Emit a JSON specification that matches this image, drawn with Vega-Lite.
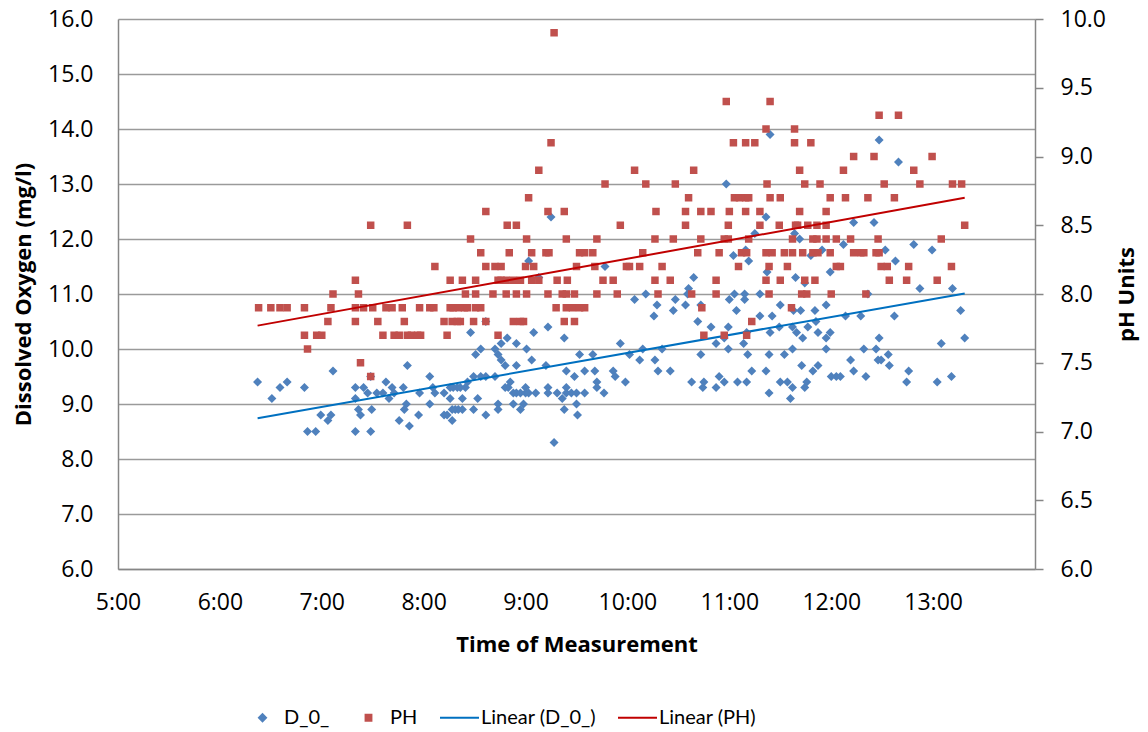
{
  "$schema": "https://vega.github.io/schema/vega-lite/v6.json",
  "width": 917,
  "height": 550,
  "autosize": "none",
  "padding": {"left": 118, "top": 19, "right": 113, "bottom": 163},
  "background": "white",
  "config": {
    "view": {"stroke": null},
    "font": "Open Sans",
    "axis": {"labelFont": "Open Sans", "labelFontSize": 23, "labelColor": "#000000", "titleFont": "Open Sans", "titleFontSize": 22, "titleFontWeight": "bold", "titleColor": "#000000", "labelFlush": false, "labelOverlap": false, "domainColor": "#868686", "domainWidth": 1.5},
    "legend": {"title": null, "orient": "none", "legendX": 124, "legendY": 678, "direction": "horizontal", "columns": 4, "columnPadding": 18, "padding": 0, "labelFont": "Lato", "labelFontSize": 20, "labelColor": "#000000", "labelOffset": 1, "symbolSize": 1521, "symbolStrokeWidth": 2, "symbolOpacity": 1}
  },
  "datasets": {
    "do": [
      {"t":6.37,"v":9.4,"s":"D_0_"},{"t":6.51,"v":9.1,"s":"D_0_"},{"t":6.59,"v":9.3,"s":"D_0_"},{"t":6.66,"v":9.4,"s":"D_0_"},{"t":6.83,"v":9.3,"s":"D_0_"},{"t":7.11,"v":9.6,"s":"D_0_"},{"t":6.86,"v":8.5,"s":"D_0_"},{"t":6.94,"v":8.5,"s":"D_0_"},{"t":6.99,"v":8.8,"s":"D_0_"},{"t":7.06,"v":8.7,"s":"D_0_"},{"t":7.09,"v":8.8,"s":"D_0_"},{"t":7.33,"v":9.3,"s":"D_0_"},{"t":7.33,"v":9.1,"s":"D_0_"},{"t":7.36,"v":8.9,"s":"D_0_"},{"t":7.38,"v":8.8,"s":"D_0_"},{"t":7.33,"v":8.5,"s":"D_0_"},{"t":7.41,"v":9.3,"s":"D_0_"},{"t":7.45,"v":9.2,"s":"D_0_"},{"t":7.48,"v":9.5,"s":"D_0_"},{"t":7.49,"v":8.9,"s":"D_0_"},{"t":7.48,"v":8.5,"s":"D_0_"},{"t":7.54,"v":9.2,"s":"D_0_"},{"t":7.60,"v":9.2,"s":"D_0_"},{"t":7.63,"v":9.4,"s":"D_0_"},{"t":7.69,"v":9.3,"s":"D_0_"},{"t":7.71,"v":9.2,"s":"D_0_"},{"t":7.80,"v":9.3,"s":"D_0_"},{"t":7.66,"v":9.1,"s":"D_0_"},{"t":7.84,"v":9.7,"s":"D_0_"},{"t":7.83,"v":9.0,"s":"D_0_"},{"t":7.81,"v":8.9,"s":"D_0_"},{"t":7.76,"v":8.7,"s":"D_0_"},{"t":7.86,"v":8.6,"s":"D_0_"},{"t":7.95,"v":8.8,"s":"D_0_"},{"t":7.96,"v":9.2,"s":"D_0_"},{"t":8.06,"v":9.5,"s":"D_0_"},{"t":8.09,"v":9.3,"s":"D_0_"},{"t":8.11,"v":9.2,"s":"D_0_"},{"t":8.06,"v":9.0,"s":"D_0_"},
      {"t":9.25,"v":12.4,"s":"D_0_"},{"t":9.03,"v":11.6,"s":"D_0_"},{"t":9.13,"v":11.3,"s":"D_0_"},{"t":9.78,"v":11.5,"s":"D_0_"},{"t":8.61,"v":10.5,"s":"D_0_"},{"t":8.46,"v":10.3,"s":"D_0_"},{"t":9.22,"v":10.4,"s":"D_0_"},{"t":9.08,"v":10.3,"s":"D_0_"},{"t":9.38,"v":10.2,"s":"D_0_"},{"t":8.82,"v":10.2,"s":"D_0_"},{"t":8.76,"v":10.1,"s":"D_0_"},{"t":8.91,"v":10.1,"s":"D_0_"},{"t":8.56,"v":10.0,"s":"D_0_"},{"t":8.51,"v":9.9,"s":"D_0_"},{"t":8.70,"v":10.0,"s":"D_0_"},{"t":8.73,"v":9.9,"s":"D_0_"},{"t":8.76,"v":9.8,"s":"D_0_"},{"t":8.80,"v":9.7,"s":"D_0_"},{"t":9.01,"v":10.0,"s":"D_0_"},{"t":9.06,"v":9.8,"s":"D_0_"},{"t":9.93,"v":10.1,"s":"D_0_"},{"t":9.53,"v":9.9,"s":"D_0_"},{"t":9.66,"v":9.9,"s":"D_0_"},{"t":8.91,"v":9.7,"s":"D_0_"},{"t":9.20,"v":9.7,"s":"D_0_"},{"t":9.40,"v":9.6,"s":"D_0_"},{"t":9.48,"v":9.5,"s":"D_0_"},{"t":9.58,"v":9.6,"s":"D_0_"},{"t":9.68,"v":9.6,"s":"D_0_"},{"t":9.86,"v":9.6,"s":"D_0_"},{"t":9.88,"v":9.5,"s":"D_0_"},{"t":9.98,"v":9.4,"s":"D_0_"},{"t":8.43,"v":9.4,"s":"D_0_"},{"t":8.49,"v":9.5,"s":"D_0_"},{"t":8.56,"v":9.5,"s":"D_0_"},{"t":8.61,"v":9.5,"s":"D_0_"},{"t":8.70,"v":9.5,"s":"D_0_"},{"t":8.85,"v":9.4,"s":"D_0_"},{"t":8.83,"v":9.3,"s":"D_0_"},{"t":8.80,"v":9.3,"s":"D_0_"},{"t":8.20,"v":9.2,"s":"D_0_"},{"t":8.26,"v":9.3,"s":"D_0_"},{"t":8.29,"v":9.3,"s":"D_0_"},{"t":8.33,"v":9.3,"s":"D_0_"},{"t":8.36,"v":9.3,"s":"D_0_"},{"t":8.41,"v":9.3,"s":"D_0_"},{"t":8.26,"v":9.1,"s":"D_0_"},{"t":8.38,"v":9.1,"s":"D_0_"},{"t":8.31,"v":8.9,"s":"D_0_"},{"t":8.34,"v":8.9,"s":"D_0_"},{"t":8.28,"v":8.9,"s":"D_0_"},{"t":8.38,"v":8.9,"s":"D_0_"},{"t":8.20,"v":8.8,"s":"D_0_"},{"t":8.23,"v":8.8,"s":"D_0_"},{"t":8.28,"v":8.7,"s":"D_0_"},{"t":8.53,"v":9.1,"s":"D_0_"},{"t":8.49,"v":8.9,"s":"D_0_"},{"t":8.61,"v":8.8,"s":"D_0_"},{"t":8.73,"v":9.0,"s":"D_0_"},{"t":8.73,"v":8.9,"s":"D_0_"},{"t":8.88,"v":9.2,"s":"D_0_"},{"t":8.91,"v":9.2,"s":"D_0_"},{"t":8.95,"v":9.2,"s":"D_0_"},{"t":9.00,"v":9.3,"s":"D_0_"},{"t":9.00,"v":9.2,"s":"D_0_"},{"t":9.03,"v":9.2,"s":"D_0_"},{"t":9.10,"v":9.2,"s":"D_0_"},{"t":8.88,"v":9.0,"s":"D_0_"},{"t":8.95,"v":8.9,"s":"D_0_"},{"t":8.98,"v":9.0,"s":"D_0_"},{"t":9.22,"v":9.3,"s":"D_0_"},{"t":9.22,"v":9.2,"s":"D_0_"},{"t":9.31,"v":9.2,"s":"D_0_"},{"t":9.36,"v":9.1,"s":"D_0_"},{"t":9.40,"v":9.3,"s":"D_0_"},{"t":9.40,"v":9.2,"s":"D_0_"},{"t":9.45,"v":9.2,"s":"D_0_"},{"t":9.50,"v":9.2,"s":"D_0_"},{"t":9.58,"v":9.2,"s":"D_0_"},{"t":9.38,"v":8.9,"s":"D_0_"},{"t":9.50,"v":9.0,"s":"D_0_"},{"t":9.51,"v":8.8,"s":"D_0_"},{"t":9.70,"v":9.4,"s":"D_0_"},{"t":9.70,"v":9.3,"s":"D_0_"},{"t":9.77,"v":9.2,"s":"D_0_"},{"t":9.28,"v":8.3,"s":"D_0_"},
      {"t":11.40,"v":13.9,"s":"D_0_"},{"t":10.97,"v":13.0,"s":"D_0_"},{"t":11.36,"v":12.4,"s":"D_0_"},{"t":11.25,"v":12.1,"s":"D_0_"},{"t":11.64,"v":12.1,"s":"D_0_"},{"t":11.69,"v":12.0,"s":"D_0_"},{"t":11.16,"v":11.8,"s":"D_0_"},{"t":11.04,"v":11.7,"s":"D_0_"},{"t":11.19,"v":11.6,"s":"D_0_"},{"t":11.80,"v":11.7,"s":"D_0_"},{"t":11.37,"v":11.4,"s":"D_0_"},{"t":10.65,"v":11.3,"s":"D_0_"},{"t":11.65,"v":11.3,"s":"D_0_"},
      {"t":11.74,"v":11.2,"s":"D_0_"},{"t":10.18,"v":11.0,"s":"D_0_"},{"t":10.59,"v":11.0,"s":"D_0_"},{"t":10.60,"v":11.1,"s":"D_0_"},{"t":11.05,"v":11.0,"s":"D_0_"},{"t":11.15,"v":11.0,"s":"D_0_"},{"t":11.30,"v":11.0,"s":"D_0_"},{"t":10.07,"v":10.9,"s":"D_0_"},{"t":10.29,"v":10.8,"s":"D_0_"},{"t":10.47,"v":10.9,"s":"D_0_"},{"t":10.57,"v":10.8,"s":"D_0_"},{"t":11.00,"v":10.9,"s":"D_0_"},{"t":11.15,"v":10.9,"s":"D_0_"},{"t":10.72,"v":10.8,"s":"D_0_"},{"t":10.26,"v":10.6,"s":"D_0_"},{"t":10.45,"v":10.7,"s":"D_0_"},{"t":11.07,"v":10.7,"s":"D_0_"},{"t":11.30,"v":10.6,"s":"D_0_"},{"t":11.42,"v":10.6,"s":"D_0_"},{"t":11.50,"v":10.8,"s":"D_0_"},{"t":11.63,"v":10.7,"s":"D_0_"},{"t":11.70,"v":10.7,"s":"D_0_"},{"t":11.84,"v":10.7,"s":"D_0_"},{"t":10.69,"v":10.5,"s":"D_0_"},{"t":10.82,"v":10.4,"s":"D_0_"},{"t":10.99,"v":10.4,"s":"D_0_"},{"t":10.87,"v":10.1,"s":"D_0_"},{"t":10.95,"v":10.2,"s":"D_0_"},{"t":11.14,"v":10.1,"s":"D_0_"},{"t":11.17,"v":10.3,"s":"D_0_"},{"t":11.40,"v":10.3,"s":"D_0_"},{"t":11.49,"v":10.4,"s":"D_0_"},{"t":11.62,"v":10.4,"s":"D_0_"},{"t":11.66,"v":10.3,"s":"D_0_"},{"t":11.72,"v":10.2,"s":"D_0_"},{"t":11.77,"v":10.4,"s":"D_0_"},{"t":11.87,"v":10.3,"s":"D_0_"},{"t":10.15,"v":10.0,"s":"D_0_"},{"t":10.34,"v":10.0,"s":"D_0_"},{"t":10.72,"v":9.9,"s":"D_0_"},{"t":10.99,"v":10.0,"s":"D_0_"},{"t":11.18,"v":9.9,"s":"D_0_"},{"t":11.39,"v":9.9,"s":"D_0_"},{"t":11.54,"v":9.9,"s":"D_0_"},{"t":11.62,"v":10.0,"s":"D_0_"},{"t":10.02,"v":9.9,"s":"D_0_"},{"t":10.12,"v":9.8,"s":"D_0_"},{"t":10.27,"v":9.8,"s":"D_0_"},{"t":10.30,"v":9.6,"s":"D_0_"},{"t":10.42,"v":9.6,"s":"D_0_"},{"t":11.22,"v":9.6,"s":"D_0_"},{"t":11.36,"v":9.6,"s":"D_0_"},{"t":11.71,"v":9.7,"s":"D_0_"},{"t":11.82,"v":9.6,"s":"D_0_"},{"t":11.87,"v":9.7,"s":"D_0_"},{"t":10.63,"v":9.4,"s":"D_0_"},{"t":10.75,"v":9.4,"s":"D_0_"},{"t":10.74,"v":9.3,"s":"D_0_"},{"t":10.87,"v":9.3,"s":"D_0_"},{"t":10.90,"v":9.5,"s":"D_0_"},{"t":10.95,"v":9.4,"s":"D_0_"},{"t":11.08,"v":9.4,"s":"D_0_"},{"t":11.17,"v":9.4,"s":"D_0_"},{"t":11.50,"v":9.4,"s":"D_0_"},{"t":11.57,"v":9.4,"s":"D_0_"},{"t":11.62,"v":9.3,"s":"D_0_"},{"t":11.74,"v":9.3,"s":"D_0_"},{"t":11.76,"v":9.4,"s":"D_0_"},{"t":11.39,"v":9.2,"s":"D_0_"},{"t":11.60,"v":9.1,"s":"D_0_"},
      {"t":12.47,"v":13.8,"s":"D_0_"},{"t":12.66,"v":13.4,"s":"D_0_"},{"t":12.22,"v":12.3,"s":"D_0_"},{"t":12.42,"v":12.3,"s":"D_0_"},{"t":12.12,"v":11.9,"s":"D_0_"},{"t":12.81,"v":11.9,"s":"D_0_"},{"t":11.91,"v":11.8,"s":"D_0_"},{"t":12.53,"v":11.8,"s":"D_0_"},{"t":12.99,"v":11.8,"s":"D_0_"},{"t":12.63,"v":11.6,"s":"D_0_"},{"t":11.99,"v":11.4,"s":"D_0_"},
      {"t":12.87,"v":11.1,"s":"D_0_"},{"t":13.19,"v":11.1,"s":"D_0_"},{"t":12.36,"v":11.0,"s":"D_0_"},{"t":11.95,"v":10.8,"s":"D_0_"},{"t":13.27,"v":10.7,"s":"D_0_"},{"t":11.85,"v":10.5,"s":"D_0_"},{"t":12.14,"v":10.6,"s":"D_0_"},{"t":12.29,"v":10.6,"s":"D_0_"},{"t":12.62,"v":10.6,"s":"D_0_"},{"t":11.99,"v":10.3,"s":"D_0_"},{"t":11.95,"v":10.2,"s":"D_0_"},{"t":12.47,"v":10.2,"s":"D_0_"},{"t":13.31,"v":10.2,"s":"D_0_"},{"t":13.08,"v":10.1,"s":"D_0_"},{"t":11.95,"v":10.0,"s":"D_0_"},{"t":12.32,"v":10.0,"s":"D_0_"},{"t":12.44,"v":10.0,"s":"D_0_"},{"t":12.56,"v":9.9,"s":"D_0_"},{"t":12.46,"v":9.8,"s":"D_0_"},{"t":12.49,"v":9.8,"s":"D_0_"},{"t":12.19,"v":9.8,"s":"D_0_"},{"t":12.57,"v":9.7,"s":"D_0_"},{"t":12.22,"v":9.6,"s":"D_0_"},{"t":12.76,"v":9.6,"s":"D_0_"},{"t":12.00,"v":9.5,"s":"D_0_"},{"t":12.05,"v":9.5,"s":"D_0_"},{"t":12.09,"v":9.5,"s":"D_0_"},{"t":12.34,"v":9.5,"s":"D_0_"},{"t":13.18,"v":9.5,"s":"D_0_"},{"t":12.74,"v":9.4,"s":"D_0_"},{"t":13.04,"v":9.4,"s":"D_0_"}
    ],
    "ph": [
      {"t":7.48,"v":8.5,"s":"PH"},{"t":7.84,"v":8.5,"s":"PH"},{"t":8.11,"v":8.2,"s":"PH"},{"t":7.33,"v":8.1,"s":"PH"},{"t":7.11,"v":8.0,"s":"PH"},{"t":7.36,"v":8.0,"s":"PH"},{"t":6.38,"v":7.9,"s":"PH"},{"t":6.50,"v":7.9,"s":"PH"},{"t":6.59,"v":7.9,"s":"PH"},{"t":6.66,"v":7.9,"s":"PH"},{"t":6.83,"v":7.9,"s":"PH"},{"t":7.09,"v":7.9,"s":"PH"},{"t":7.33,"v":7.9,"s":"PH"},{"t":7.41,"v":7.9,"s":"PH"},{"t":7.50,"v":7.9,"s":"PH"},{"t":7.63,"v":7.9,"s":"PH"},{"t":7.69,"v":7.9,"s":"PH"},{"t":7.79,"v":7.9,"s":"PH"},{"t":7.96,"v":7.9,"s":"PH"},{"t":8.06,"v":7.9,"s":"PH"},{"t":8.10,"v":7.9,"s":"PH"},{"t":7.06,"v":7.8,"s":"PH"},{"t":7.33,"v":7.8,"s":"PH"},{"t":7.55,"v":7.8,"s":"PH"},{"t":7.81,"v":7.8,"s":"PH"},{"t":6.83,"v":7.7,"s":"PH"},{"t":6.95,"v":7.7,"s":"PH"},{"t":7.00,"v":7.7,"s":"PH"},{"t":7.60,"v":7.7,"s":"PH"},{"t":7.71,"v":7.7,"s":"PH"},{"t":7.76,"v":7.7,"s":"PH"},{"t":7.84,"v":7.7,"s":"PH"},{"t":7.88,"v":7.7,"s":"PH"},{"t":7.94,"v":7.7,"s":"PH"},{"t":7.97,"v":7.7,"s":"PH"},{"t":6.86,"v":7.6,"s":"PH"},{"t":7.38,"v":7.5,"s":"PH"},{"t":7.48,"v":7.4,"s":"PH"},
      {"t":9.28,"v":9.9,"s":"PH"},{"t":9.25,"v":9.1,"s":"PH"},{"t":9.13,"v":8.9,"s":"PH"},{"t":9.78,"v":8.8,"s":"PH"},{"t":9.03,"v":8.7,"s":"PH"},{"t":8.61,"v":8.6,"s":"PH"},{"t":9.22,"v":8.6,"s":"PH"},{"t":9.38,"v":8.6,"s":"PH"},{"t":8.82,"v":8.5,"s":"PH"},{"t":8.91,"v":8.5,"s":"PH"},{"t":9.93,"v":8.5,"s":"PH"},{"t":8.46,"v":8.4,"s":"PH"},{"t":9.01,"v":8.4,"s":"PH"},{"t":9.40,"v":8.4,"s":"PH"},{"t":9.70,"v":8.4,"s":"PH"},{"t":8.56,"v":8.3,"s":"PH"},{"t":8.84,"v":8.3,"s":"PH"},{"t":9.06,"v":8.3,"s":"PH"},{"t":9.20,"v":8.3,"s":"PH"},{"t":9.23,"v":8.3,"s":"PH"},{"t":9.53,"v":8.3,"s":"PH"},{"t":9.58,"v":8.3,"s":"PH"},{"t":9.66,"v":8.3,"s":"PH"},{"t":8.61,"v":8.2,"s":"PH"},{"t":8.70,"v":8.2,"s":"PH"},{"t":8.76,"v":8.2,"s":"PH"},{"t":9.00,"v":8.2,"s":"PH"},{"t":9.08,"v":8.2,"s":"PH"},{"t":9.50,"v":8.2,"s":"PH"},{"t":9.68,"v":8.2,"s":"PH"},{"t":8.26,"v":8.1,"s":"PH"},{"t":8.38,"v":8.1,"s":"PH"},{"t":8.51,"v":8.1,"s":"PH"},{"t":8.73,"v":8.1,"s":"PH"},{"t":8.76,"v":8.1,"s":"PH"},{"t":8.81,"v":8.1,"s":"PH"},{"t":8.88,"v":8.1,"s":"PH"},{"t":8.95,"v":8.1,"s":"PH"},{"t":9.06,"v":8.1,"s":"PH"},{"t":9.13,"v":8.1,"s":"PH"},{"t":9.31,"v":8.1,"s":"PH"},{"t":9.41,"v":8.1,"s":"PH"},{"t":9.76,"v":8.1,"s":"PH"},{"t":9.86,"v":8.1,"s":"PH"},{"t":8.41,"v":8.0,"s":"PH"},{"t":8.51,"v":8.0,"s":"PH"},{"t":8.68,"v":8.0,"s":"PH"},{"t":8.81,"v":8.0,"s":"PH"},{"t":8.91,"v":8.0,"s":"PH"},{"t":9.01,"v":8.0,"s":"PH"},{"t":9.22,"v":8.0,"s":"PH"},{"t":9.36,"v":8.0,"s":"PH"},{"t":9.40,"v":8.0,"s":"PH"},{"t":9.48,"v":8.0,"s":"PH"},{"t":9.70,"v":8.0,"s":"PH"},{"t":9.90,"v":8.0,"s":"PH"},{"t":8.26,"v":7.9,"s":"PH"},{"t":8.29,"v":7.9,"s":"PH"},{"t":8.34,"v":7.9,"s":"PH"},{"t":8.40,"v":7.9,"s":"PH"},{"t":8.43,"v":7.9,"s":"PH"},{"t":8.51,"v":7.9,"s":"PH"},{"t":8.56,"v":7.9,"s":"PH"},{"t":9.30,"v":7.9,"s":"PH"},{"t":9.40,"v":7.9,"s":"PH"},{"t":9.46,"v":7.9,"s":"PH"},{"t":9.53,"v":7.9,"s":"PH"},{"t":9.58,"v":7.9,"s":"PH"},{"t":8.20,"v":7.8,"s":"PH"},{"t":8.28,"v":7.8,"s":"PH"},{"t":8.33,"v":7.8,"s":"PH"},{"t":8.36,"v":7.8,"s":"PH"},{"t":8.49,"v":7.8,"s":"PH"},{"t":8.61,"v":7.8,"s":"PH"},{"t":8.88,"v":7.8,"s":"PH"},{"t":8.95,"v":7.8,"s":"PH"},{"t":8.98,"v":7.8,"s":"PH"},{"t":9.38,"v":7.8,"s":"PH"},{"t":9.48,"v":7.8,"s":"PH"},{"t":8.23,"v":7.7,"s":"PH"},{"t":8.73,"v":7.7,"s":"PH"},
      {"t":10.97,"v":9.4,"s":"PH"},{"t":11.40,"v":9.4,"s":"PH"},{"t":11.36,"v":9.2,"s":"PH"},{"t":11.64,"v":9.2,"s":"PH"},{"t":11.04,"v":9.1,"s":"PH"},{"t":11.16,"v":9.1,"s":"PH"},{"t":11.25,"v":9.1,"s":"PH"},{"t":11.64,"v":9.1,"s":"PH"},{"t":11.80,"v":9.1,"s":"PH"},{"t":10.07,"v":8.9,"s":"PH"},{"t":10.65,"v":8.9,"s":"PH"},{"t":11.69,"v":8.9,"s":"PH"},{"t":10.18,"v":8.8,"s":"PH"},{"t":10.47,"v":8.8,"s":"PH"},{"t":11.37,"v":8.8,"s":"PH"},{"t":11.74,"v":8.8,"s":"PH"},{"t":11.89,"v":8.8,"s":"PH"},{"t":10.60,"v":8.7,"s":"PH"},{"t":11.05,"v":8.7,"s":"PH"},{"t":11.10,"v":8.7,"s":"PH"},{"t":11.16,"v":8.7,"s":"PH"},{"t":11.19,"v":8.7,"s":"PH"},{"t":11.40,"v":8.7,"s":"PH"},{"t":11.50,"v":8.7,"s":"PH"},{"t":10.28,"v":8.6,"s":"PH"},{"t":10.57,"v":8.6,"s":"PH"},{"t":10.72,"v":8.6,"s":"PH"},{"t":10.82,"v":8.6,"s":"PH"},{"t":11.00,"v":8.6,"s":"PH"},{"t":11.16,"v":8.6,"s":"PH"},{"t":11.30,"v":8.6,"s":"PH"},{"t":11.69,"v":8.6,"s":"PH"},{"t":10.57,"v":8.5,"s":"PH"},{"t":10.99,"v":8.5,"s":"PH"},{"t":11.30,"v":8.5,"s":"PH"},{"t":11.49,"v":8.5,"s":"PH"},{"t":11.65,"v":8.5,"s":"PH"},{"t":11.67,"v":8.5,"s":"PH"},{"t":11.77,"v":8.5,"s":"PH"},{"t":11.86,"v":8.5,"s":"PH"},{"t":10.27,"v":8.4,"s":"PH"},{"t":10.45,"v":8.4,"s":"PH"},{"t":10.72,"v":8.4,"s":"PH"},{"t":10.95,"v":8.4,"s":"PH"},{"t":10.99,"v":8.4,"s":"PH"},{"t":11.19,"v":8.4,"s":"PH"},{"t":11.62,"v":8.4,"s":"PH"},{"t":11.82,"v":8.4,"s":"PH"},{"t":11.86,"v":8.4,"s":"PH"},{"t":10.15,"v":8.3,"s":"PH"},{"t":10.69,"v":8.3,"s":"PH"},{"t":10.90,"v":8.3,"s":"PH"},{"t":11.12,"v":8.3,"s":"PH"},{"t":11.17,"v":8.3,"s":"PH"},{"t":11.36,"v":8.3,"s":"PH"},{"t":11.42,"v":8.3,"s":"PH"},{"t":11.54,"v":8.3,"s":"PH"},{"t":11.62,"v":8.3,"s":"PH"},{"t":11.72,"v":8.3,"s":"PH"},{"t":11.82,"v":8.3,"s":"PH"},{"t":9.99,"v":8.2,"s":"PH"},{"t":10.02,"v":8.2,"s":"PH"},{"t":10.12,"v":8.2,"s":"PH"},{"t":10.34,"v":8.2,"s":"PH"},{"t":11.09,"v":8.2,"s":"PH"},{"t":11.39,"v":8.2,"s":"PH"},{"t":11.57,"v":8.2,"s":"PH"},{"t":10.27,"v":8.1,"s":"PH"},{"t":10.42,"v":8.1,"s":"PH"},{"t":10.87,"v":8.1,"s":"PH"},{"t":11.36,"v":8.1,"s":"PH"},{"t":11.50,"v":8.1,"s":"PH"},{"t":11.74,"v":8.1,"s":"PH"},{"t":11.84,"v":8.1,"s":"PH"},{"t":10.30,"v":8.0,"s":"PH"},{"t":10.63,"v":8.0,"s":"PH"},{"t":10.87,"v":8.0,"s":"PH"},{"t":11.39,"v":8.0,"s":"PH"},{"t":11.71,"v":8.0,"s":"PH"},{"t":11.76,"v":8.0,"s":"PH"},{"t":10.73,"v":7.9,"s":"PH"},{"t":11.61,"v":7.9,"s":"PH"},{"t":11.22,"v":7.8,"s":"PH"},{"t":10.75,"v":7.7,"s":"PH"},{"t":10.95,"v":7.7,"s":"PH"},{"t":11.17,"v":7.7,"s":"PH"},
      {"t":12.47,"v":9.3,"s":"PH"},{"t":12.66,"v":9.3,"s":"PH"},{"t":12.22,"v":9.0,"s":"PH"},{"t":12.42,"v":9.0,"s":"PH"},{"t":12.99,"v":9.0,"s":"PH"},{"t":12.12,"v":8.9,"s":"PH"},{"t":12.81,"v":8.9,"s":"PH"},{"t":12.52,"v":8.8,"s":"PH"},{"t":12.87,"v":8.8,"s":"PH"},{"t":13.19,"v":8.8,"s":"PH"},{"t":13.28,"v":8.8,"s":"PH"},{"t":11.99,"v":8.7,"s":"PH"},{"t":12.14,"v":8.7,"s":"PH"},{"t":12.36,"v":8.7,"s":"PH"},{"t":12.62,"v":8.7,"s":"PH"},{"t":11.95,"v":8.6,"s":"PH"},{"t":11.95,"v":8.5,"s":"PH"},{"t":13.31,"v":8.5,"s":"PH"},{"t":11.95,"v":8.4,"s":"PH"},{"t":12.05,"v":8.4,"s":"PH"},{"t":12.19,"v":8.4,"s":"PH"},{"t":12.46,"v":8.4,"s":"PH"},{"t":13.08,"v":8.4,"s":"PH"},{"t":11.87,"v":8.3,"s":"PH"},{"t":11.99,"v":8.3,"s":"PH"},{"t":12.22,"v":8.3,"s":"PH"},{"t":12.29,"v":8.3,"s":"PH"},{"t":12.32,"v":8.3,"s":"PH"},{"t":12.44,"v":8.3,"s":"PH"},{"t":12.47,"v":8.3,"s":"PH"},{"t":12.05,"v":8.2,"s":"PH"},{"t":12.09,"v":8.2,"s":"PH"},{"t":12.49,"v":8.2,"s":"PH"},{"t":12.55,"v":8.2,"s":"PH"},{"t":12.76,"v":8.2,"s":"PH"},{"t":13.18,"v":8.2,"s":"PH"},{"t":12.57,"v":8.1,"s":"PH"},{"t":12.74,"v":8.1,"s":"PH"},{"t":13.04,"v":8.1,"s":"PH"},{"t":12.00,"v":8.0,"s":"PH"},{"t":12.34,"v":8.0,"s":"PH"}
    ],
    "trend_do": [{"t":6.37,"v":8.74,"s":"Linear (D_0_)"},{"t":13.31,"v":11.01,"s":"Linear (D_0_)"}],
    "trend_ph": [{"t":6.37,"v":7.77,"s":"Linear (PH)"},{"t":13.31,"v":8.70,"s":"Linear (PH)"}]
  },
  "layer": [
    {
      "layer": [
        {
          "data": {"name": "do"},
          "mark": {"type": "point", "filled": true, "opacity": 1, "size": 2500},
          "encoding": {
            "x": {"field": "t", "type": "quantitative", "scale": {"domain": [5, 14], "nice": false},
              "axis": {"values": [5,6,7,8,9,10,11,12,13], "labelExpr": "datum.value + ':00'", "grid": false, "ticks": false, "labelPadding": 22, "title": "Time of Measurement", "titlePadding": 20}},
            "y": {"field": "v", "type": "quantitative", "scale": {"domain": [6, 16], "nice": false},
              "axis": {"orient": "left", "values": [6,7,8,9,10,11,12,13,14,15,16], "format": ".1f", "grid": true, "gridColor": "#9A9A9A", "gridWidth": 1.5, "ticks": false, "labelPadding": 25, "title": "Dissolved Oxygen (mg/l)", "titlePadding": 12}},
            "color": {"field": "s", "type": "nominal",
              "scale": {"domain": ["D_0_", "PH", "Linear (D_0_)", "Linear (PH)"], "range": ["#4F81BD", "#C0504D", "#0070C0", "#C00000"]}},
            "shape": {"field": "s", "type": "nominal",
              "scale": {"domain": ["D_0_", "PH", "Linear (D_0_)", "Linear (PH)"], "range": ["M-0.18,0L0,-0.18L0.18,0L0,0.18Z", "M-0.15,-0.15H0.15V0.15H-0.15Z", "M-1,0H1", "M-1,0H1"]}}
          }
        },
        {
          "data": {"name": "trend_do"},
          "mark": {"type": "line", "strokeWidth": 2},
          "encoding": {
            "x": {"field": "t", "type": "quantitative"},
            "y": {"field": "v", "type": "quantitative"},
            "color": {"field": "s", "type": "nominal"}
          }
        }
      ]
    },
    {
      "layer": [
        {
          "data": {"name": "ph"},
          "mark": {"type": "point", "filled": true, "opacity": 1, "size": 2500},
          "encoding": {
            "x": {"field": "t", "type": "quantitative"},
            "y": {"field": "v", "type": "quantitative", "scale": {"domain": [6, 10], "nice": false},
              "axis": {"orient": "right", "values": [6,6.5,7,7.5,8,8.5,9,9.5,10], "format": ".1f", "grid": false, "ticks": true, "tickSize": 8, "tickColor": "#868686", "tickWidth": 1.5, "labelPadding": 17, "title": "pH Units", "titleAngle": 270, "titlePadding": 33}},
            "color": {"field": "s", "type": "nominal"},
            "shape": {"field": "s", "type": "nominal"}
          }
        },
        {
          "data": {"name": "trend_ph"},
          "mark": {"type": "line", "strokeWidth": 2},
          "encoding": {
            "x": {"field": "t", "type": "quantitative"},
            "y": {"field": "v", "type": "quantitative"},
            "color": {"field": "s", "type": "nominal"}
          }
        }
      ]
    }
  ],
  "resolve": {"scale": {"y": "independent"}}
}
